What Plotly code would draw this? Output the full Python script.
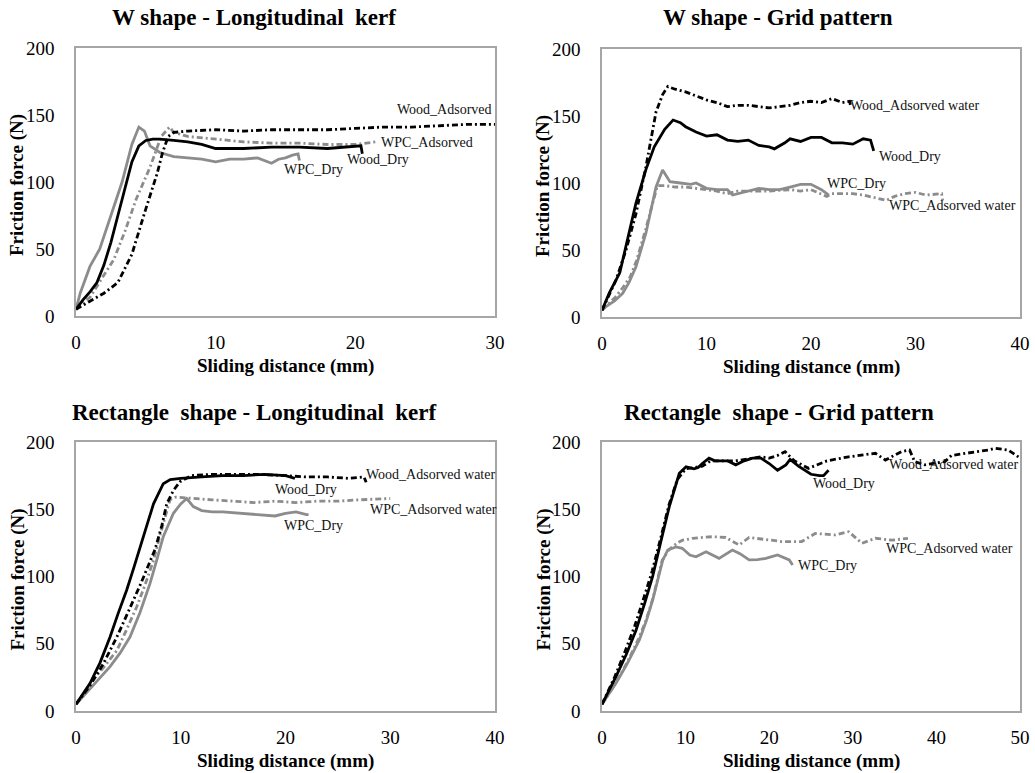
import plotly.graph_objects as go

# ---------------- Data ----------------
# Panel 1: W shape - Longitudinal kerf
p1_wood_dry_x = [0, 0.5, 1, 1.5, 2, 2.5, 3, 3.5, 4, 4.5, 5, 5.5, 6, 7, 8, 9, 10, 11, 12, 14, 16, 18, 19, 20, 20.4, 20.5]
p1_wood_dry_y = [5, 12, 18, 25, 38, 55, 75, 95, 115, 127, 131, 132, 132, 131, 130, 128, 125, 125, 125, 126, 126, 125, 126, 127, 127, 121]
p1_wood_ads_x = [0, 1, 2, 3, 4, 5, 5.8, 6.2, 6.6, 7, 8, 10, 12, 14, 16, 18, 20, 22, 24, 26, 28, 30]
p1_wood_ads_y = [5, 11, 17, 25, 46, 80, 106, 122, 134, 137, 138, 139, 138, 139, 139, 139, 140, 141, 141, 142, 143, 143]
p1_wpc_dry_x = [0, 0.3, 1, 1.7, 2.5, 3.3, 4.0, 4.5, 4.9, 5.3, 6, 7, 8, 9, 10, 11, 12, 13, 14, 14.5, 15, 15.5, 15.9, 16.0]
p1_wpc_dry_y = [5, 17, 37, 50, 75, 100, 128, 141, 138, 127, 122, 119, 118, 117, 115, 117, 117, 118, 114, 117, 118, 120, 121, 116]
p1_wpc_ads_x = [0, 0.5, 1, 1.8, 2.7, 3.5, 4.3, 5.3, 6.1, 6.7, 7, 8, 9, 10, 12, 14, 16, 18, 20, 21.5]
p1_wpc_ads_y = [5, 10, 14, 27, 42, 63, 87, 111, 134, 141, 137, 134, 133, 132, 130, 129, 129, 128, 128, 130]

# Panel 2: W shape - Grid pattern
p2_wood_dry_x = [0, 0.7, 1.7, 2.5, 3.25, 4.2, 5.0, 6.0, 6.8, 7.5, 8, 9, 10, 11, 12, 13, 14, 15, 16, 16.5, 17.5, 18, 19, 20, 21, 22, 23, 24, 25, 25.7, 26]
p2_wood_dry_y = [5, 18, 33, 60, 85, 110, 127, 140, 147, 145, 142, 138, 135, 136, 132, 131, 132, 128, 127, 125.5, 130, 133, 131, 134, 134, 130, 130, 129, 133, 132, 124]
p2_wood_ads_x = [0, 0.6, 1.34, 2.3, 3.25, 4.2, 5.17, 5.8, 6.3, 7, 8, 9, 10, 11, 12, 13, 14, 15, 16, 17, 18, 19, 20, 21, 22, 23, 23.7, 23.8]
p2_wood_ads_y = [5, 15, 27.6, 50, 77, 112, 153, 166, 172, 170, 168, 165, 162, 160, 157, 158, 158, 157, 156, 157, 158, 160, 161, 160, 163, 160, 161, 157]
p2_wpc_dry_x = [0, 0.38, 1.2, 1.98, 2.6, 3.25, 4.2, 5.17, 5.8, 6.5, 7.5, 8.5, 9, 10, 11, 12, 12.5, 13.5, 14.5, 15, 16, 17, 18, 19, 20, 21, 21.7]
p2_wpc_dry_y = [5, 7.7, 12, 17.7, 26, 37.5, 62.5, 97, 109.7, 101, 100, 99, 100, 96, 95, 95, 91, 93, 95, 96, 95, 95, 97, 99, 99, 95, 91]
p2_wpc_ads_x = [0, 0.5, 1.3, 2.0, 2.7, 3.3, 4.2, 5.3, 6, 7, 8, 9, 10, 11, 12, 13, 14, 16, 18, 19, 20, 21.5, 22, 24, 25, 26, 27.2, 28, 29, 30, 31, 32.5, 32.6]
p2_wpc_ads_y = [5, 9, 15, 22, 30, 42, 66, 98, 98, 97, 97, 96, 95, 94, 92, 94, 94, 94, 95, 94, 95, 90, 92, 92, 91, 89, 87, 90, 92, 93, 91, 92, 87]

# Panel 3: Rectangle shape - Longitudinal kerf
p3_wood_dry_x = [0, 1.34, 2.3, 3.25, 4.0, 4.84, 5.5, 6.1, 6.8, 7.4, 8.33, 9.0, 10, 12, 14, 16, 18, 20, 20.9]
p3_wood_dry_y = [5, 20.6, 36, 55, 72, 90, 106, 122, 139, 154, 169, 172, 173, 174, 175, 175, 176, 175, 173]
p3_wood_ads_x = [0, 1.34, 2.6, 3.9, 5.0, 6.2, 7.54, 8.2, 8.66, 9.3, 9.93, 11, 13, 15, 17, 20, 22, 24, 26, 27.5, 27.7]
p3_wood_ads_y = [5, 19, 35, 55, 74, 95, 120, 138, 154, 164, 170.5, 175, 176, 176, 176, 175, 174, 174, 173, 174, 170]
p3_wpc_dry_x = [0, 1.5, 3.25, 4.2, 5.15, 6.1, 7.06, 7.7, 8.33, 9.3, 10.0, 10.57, 11.2, 12, 13, 14, 16, 18, 19, 20, 21, 22, 22.2]
p3_wpc_dry_y = [5, 18, 33, 43, 55, 73, 94.7, 112, 129.6, 147, 154, 158, 152, 149, 148, 148, 147, 146, 145, 147, 148, 146, 146]
p3_wpc_ads_x = [0, 1.5, 2.7, 3.9, 4.8, 5.8, 6.6, 7.4, 8.0, 8.66, 8.97, 9.5, 11, 13, 15, 17, 19, 21, 23, 25, 27, 29, 30]
p3_wpc_ads_y = [5, 22, 33, 45, 60, 77.5, 94, 112, 130, 149, 157, 159, 158, 157, 156, 155, 156, 155, 156, 156, 157, 158, 158]

# Panel 4: Rectangle shape - Grid pattern
p4_wood_dry_x = [0, 1.67, 2.9, 4.07, 5.1, 6.06, 7.0, 8.05, 9.25, 10.05, 11, 11.5, 12, 12.8, 13.5, 15, 16, 17, 18, 19, 20, 21, 22, 22.5, 23.5, 24.5, 25, 26, 26.5, 27.1]
p4_wood_dry_y = [5, 25.5, 42, 60, 80, 100, 125, 152, 176.7, 181.6, 180, 181, 184, 188, 186, 186, 183, 186, 188, 188, 184, 179, 183, 187, 182, 178, 176, 175, 175, 179]
p4_wood_ads_x = [0, 1.5, 2.8, 3.9, 5.0, 6.0, 7.0, 8.0, 9.0, 10, 12, 13, 15, 16, 18, 19, 20, 21, 21.9, 23, 24.7, 26.9, 29.5, 32.7, 33.9, 35.8, 36.8, 37.4, 38.6, 41, 41.8, 43.8, 46.2, 47, 48.6, 49.8, 50]
p4_wood_ads_y = [5, 25, 45, 63, 84, 104, 128, 153, 172, 180, 182, 186, 186, 186, 188, 189, 188, 190, 192.8, 186, 180.4, 185.9, 189, 191.6, 186.6, 192.8, 194, 185.4, 183, 185.4, 190, 191.6, 194, 195.3, 194, 189, 188]
p4_wpc_dry_x = [0, 1.67, 3.0, 4.47, 5.3, 6.06, 7.26, 7.86, 8.85, 9.6, 10.5, 11.24, 12.44, 13.3, 14.0, 15.6, 16.5, 17.6, 18.6, 19.6, 21, 22.4, 22.8]
p4_wpc_dry_y = [5, 20.6, 35, 52.8, 67, 82.5, 112, 119.7, 122, 121, 116, 114.7, 118.4, 116, 113.5, 119.7, 117, 112.3, 112.5, 113.5, 116, 112.3, 108.5]
p4_wpc_ads_x = [0, 1.67, 3.0, 4.4, 5.3, 6.1, 7.2, 8.0, 9.0, 9.65, 10.85, 13.2, 14.8, 16.4, 17.6, 20, 21.5, 23.9, 25.5, 27.9, 29.5, 31.1, 32.7, 34.7, 36.6]
p4_wpc_ads_y = [5, 21, 36, 54, 68, 84, 112, 120, 125, 127, 128.4, 129.6, 129, 123.4, 129, 127, 126, 126, 132, 130.9, 133.3, 124.7, 128.4, 127, 128.4]

panel_titles = ["W shape - Longitudinal  kerf", "W shape - Grid pattern",
                "Rectangle  shape - Longitudinal  kerf", "Rectangle  shape - Grid pattern"]
x_max = [30, 40, 40, 50]
x_ticks = [[0, 10, 20, 30], [0, 10, 20, 30, 40], [0, 10, 20, 30, 40], [0, 10, 20, 30, 40, 50]]
y_ticks = [0, 50, 100, 150, 200]

# labels: (text, x, y) in data units
p1_labels = [("Wood_Adsorved", 26.4, 154), ("WPC_Adsorved", 25.1, 129.6), ("Wood_Dry", 21.6, 117), ("WPC_Dry", 17.0, 109.5)]
p2_labels = [("Wood_Adsorved water", 29.9, 158), ("Wood_Dry", 29.5, 119.6), ("WPC_Dry", 24.4, 99.3), ("WPC_Adsorved water", 33.5, 83)]
p3_labels = [("Wood_Adsorved water", 33.8, 175.5), ("Wood_Dry", 22.0, 165), ("WPC_Adsorved water", 34.1, 150), ("WPC_Dry", 22.65, 137.8)]
p4_labels = [("Wood_Adsorved water", 42.0, 183), ("Wood_Dry", 28.9, 169.3), ("WPC_Adsorved water", 41.6, 121), ("WPC_Dry", 27.0, 108.5)]

# ---------------- Layout geometry ----------------
W, H = 1035, 773
frames = [(76, 495, 48, 316), (602, 1020, 49, 317), (76, 495, 442, 711), (602, 1020, 442, 711)]
title_pos = [(254, 18), (778, 18), (254, 412), (779, 412)]

BLACK = "#000000"
GRAY = "#8c8c8c"
SERIF = "Liberation Serif"
DASHDOT = "6px,3px,2px,3px"

panels = [
    [(p1_wpc_dry_x, p1_wpc_dry_y, GRAY, "solid"), (p1_wpc_ads_x, p1_wpc_ads_y, GRAY, DASHDOT),
     (p1_wood_ads_x, p1_wood_ads_y, BLACK, DASHDOT), (p1_wood_dry_x, p1_wood_dry_y, BLACK, "solid")],
    [(p2_wpc_ads_x, p2_wpc_ads_y, GRAY, DASHDOT), (p2_wpc_dry_x, p2_wpc_dry_y, GRAY, "solid"),
     (p2_wood_ads_x, p2_wood_ads_y, BLACK, DASHDOT), (p2_wood_dry_x, p2_wood_dry_y, BLACK, "solid")],
    [(p3_wpc_dry_x, p3_wpc_dry_y, GRAY, "solid"), (p3_wpc_ads_x, p3_wpc_ads_y, GRAY, DASHDOT),
     (p3_wood_ads_x, p3_wood_ads_y, BLACK, DASHDOT), (p3_wood_dry_x, p3_wood_dry_y, BLACK, "solid")],
    [(p4_wpc_ads_x, p4_wpc_ads_y, GRAY, DASHDOT), (p4_wpc_dry_x, p4_wpc_dry_y, GRAY, "solid"),
     (p4_wood_ads_x, p4_wood_ads_y, BLACK, DASHDOT), (p4_wood_dry_x, p4_wood_dry_y, BLACK, "solid")],
]
labels = [p1_labels, p2_labels, p3_labels, p4_labels]

fig = go.Figure()
annotations = []
layout = dict(width=W, height=H, margin=dict(l=0, r=0, t=0, b=0, autoexpand=False),
              paper_bgcolor="white", plot_bgcolor="white", showlegend=False,
              font=dict(family=SERIF, color="black"))

for i in range(4):
    n = "" if i == 0 else str(i + 1)
    xa, ya = "x" + n, "y" + n
    l, r, t, b = frames[i]
    for (xs, ys, col, dash) in panels[i]:
        fig.add_trace(go.Scatter(x=xs, y=ys, mode="lines", xaxis=xa, yaxis=ya,
                                 line=dict(color=col, width=2.8, dash=dash),
                                 hoverinfo="skip"))
    layout["xaxis" + n] = dict(domain=[l / W, r / W], anchor=ya, range=[0, x_max[i]],
                               tickvals=x_ticks[i], showgrid=False, zeroline=False,
                               showline=True, mirror=True, linecolor="#a6a6a6", linewidth=1.5,
                               ticks="", ticklabelstandoff=8, automargin=False,
                               tickfont=dict(family=SERIF, size=19, color="black"))
    layout["yaxis" + n] = dict(domain=[1 - b / H, 1 - t / H], anchor=xa, range=[0, 200],
                               tickvals=y_ticks, showgrid=False, zeroline=False,
                               showline=True, mirror=True, linecolor="#a6a6a6", linewidth=1.5,
                               ticks="", ticklabelstandoff=16, automargin=False,
                               tickfont=dict(family=SERIF, size=19, color="black"))
    tx, ty = title_pos[i]
    annotations.append(dict(text="<b>%s</b>" % panel_titles[i], x=tx / W, y=1 - ty / H,
                            xref="paper", yref="paper", showarrow=False,
                            xanchor="center", yanchor="middle",
                            font=dict(family=SERIF, size=23, color="black")))
    annotations.append(dict(text="<b>Sliding distance (mm)</b>", x=((l + r) / 2) / W,
                            y=1 - (b + 50) / H, xref="paper", yref="paper", showarrow=False,
                            xanchor="center", yanchor="middle",
                            font=dict(family=SERIF, size=19, color="black")))
    annotations.append(dict(text="<b>Friction force (N)</b>", x=(l - 59) / W,
                            y=1 - ((t + b) / 2 + 3) / H, xref="paper", yref="paper", showarrow=False,
                            xanchor="center", yanchor="middle", textangle=-90,
                            font=dict(family=SERIF, size=19, color="black")))
    for (txt, lx, ly) in labels[i]:
        annotations.append(dict(text=txt, x=lx, y=ly, xref=xa, yref=ya, showarrow=False,
                                xanchor="center", yanchor="middle",
                                font=dict(family=SERIF, size=14, color="#111111")))

layout["annotations"] = annotations
fig.update_layout(**layout)
fig.write_html("out.html", config={"displayModeBar": False},
               post_script="document.body.style.margin='0';")
